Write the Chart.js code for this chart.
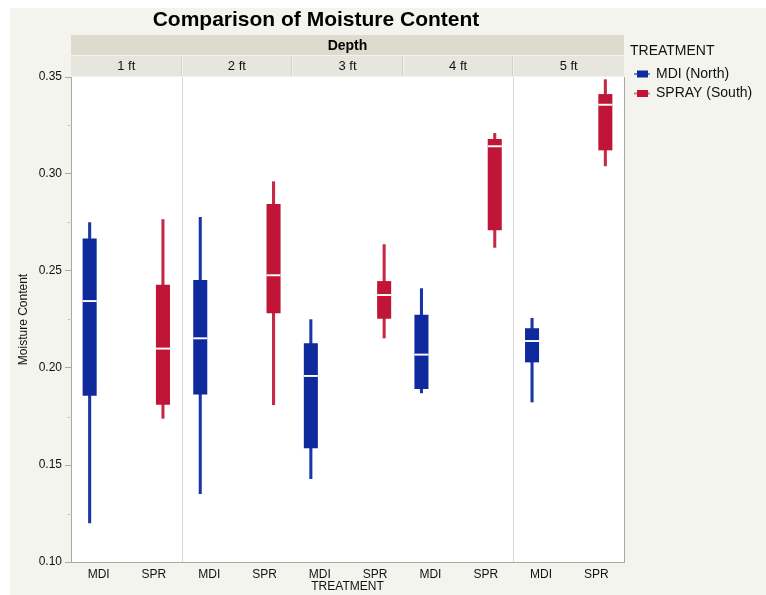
<!DOCTYPE html>
<html><head><meta charset="utf-8">
<script src="https://cdn.jsdelivr.net/npm/chart.js@4.4.0/dist/chart.umd.min.js"></script>
<style>html,body{margin:0;padding:0;background:#fff;} #wrap{width:766px;height:595px;position:relative}</style>
</head><body><div id="wrap"><canvas id="c" width="766" height="595"></canvas></div>
<script>
// ---- data ----
const chartTitle = 'Comparison of Moisture Content';
const facetTitle = 'Depth';
const depths = ['1 ft', '2 ft', '3 ft', '4 ft', '5 ft'];
const treatments = ['MDI', 'SPR'];
const legendTitle = 'TREATMENT';
const legendLabels = ['MDI (North)', 'SPRAY (South)'];
const yTicks = [0.10, 0.15, 0.20, 0.25, 0.30, 0.35];
const yMinorTicks = [0.125, 0.175, 0.225, 0.275, 0.325];

const mdiMin    = [0.1200, 0.1350, 0.1428, 0.1870, 0.1823];
const mdiQ1     = [0.1857, 0.1864, 0.1586, 0.1892, 0.2029];
const mdiMedian = [0.2345, 0.2153, 0.1959, 0.2069, 0.2139];
const mdiQ3     = [0.2667, 0.2454, 0.2127, 0.2275, 0.2205];
const mdiMax    = [0.2751, 0.2778, 0.2251, 0.2411, 0.2258];

const sprMin    = [0.1739, 0.1809, 0.2153, 0.2620, 0.3040];
const sprQ1     = [0.1811, 0.2282, 0.2254, 0.2710, 0.3122];
const sprMedian = [0.2100, 0.2478, 0.2376, 0.3143, 0.3357];
const sprQ3     = [0.2429, 0.2845, 0.2448, 0.3180, 0.3412];
const sprMax    = [0.2767, 0.2962, 0.2638, 0.3211, 0.3488];

// ---- build ----
const FONT = '"Liberation Sans", Arial, Helvetica, sans-serif';
const BLUE = '#0e2a9c';
const RED = '#c01536';
const labels = [];
depths.forEach(() => treatments.forEach(t => labels.push(t)));

function place(lo, hi, slot) {
  const out = new Array(labels.length).fill(null);
  lo.forEach((v, i) => { out[i * 2 + slot] = [v, hi[i]]; });
  return out;
}
const MED_HALF = 0.0005;
function medRange(med) { return med.map(m => m - MED_HALF); }
function medRangeHi(med) { return med.map(m => m + MED_HALF); }

const CAT_PCT = 0.651;
const BOX_PCT = 0.78;
const WHISK_PCT = 0.17;

const datasets = [
  { label: 'mdiMed', stack: 'mdi', data: place(medRange(mdiMedian), medRangeHi(mdiMedian), 0), backgroundColor: '#ffffff', barPercentage: BOX_PCT },
  { label: 'sprMed', stack: 'spr', data: place(medRange(sprMedian), medRangeHi(sprMedian), 1), backgroundColor: '#ffffff', barPercentage: BOX_PCT },
  { label: 'mdiBox', stack: 'mdi', data: place(mdiQ1, mdiQ3, 0), backgroundColor: BLUE, barPercentage: BOX_PCT },
  { label: 'sprBox', stack: 'spr', data: place(sprQ1, sprQ3, 1), backgroundColor: RED, barPercentage: BOX_PCT },
  { label: 'mdiWhisker', stack: 'mdi', data: place(mdiMin, mdiMax, 0), backgroundColor: '#1a36a6', barPercentage: WHISK_PCT },
  { label: 'sprWhisker', stack: 'spr', data: place(sprMin, sprMax, 1), backgroundColor: '#c42a48', barPercentage: WHISK_PCT }
];
datasets.forEach(d => { d.categoryPercentage = CAT_PCT; d.borderWidth = 0; d.borderSkipped = false; });

const PLOT_LEFT = 71, PLOT_RIGHT = 624, PLOT_TOP = 77, PLOT_BOTTOM = 562;

const decor = {
  id: 'decor',
  beforeDraw(chart) {
    const ctx = chart.ctx, a = chart.chartArea;
    ctx.save();
    ctx.fillStyle = '#ffffff';
    ctx.fillRect(0, 0, chart.width, chart.height);
    ctx.fillStyle = '#f4f4ef';
    ctx.fillRect(10, 8, chart.width - 10, chart.height - 8);
    ctx.fillStyle = '#ffffff';
    ctx.fillRect(a.left, a.top, a.right - a.left, a.bottom - a.top);
    const x = chart.scales.x;
    ctx.strokeStyle = '#d8d8d8';
    ctx.lineWidth = 1;
    [2, 8].forEach(i => {
      const px = Math.round((x.getPixelForTick(i - 1) + x.getPixelForTick(i)) / 2) + 0.5;
      ctx.beginPath(); ctx.moveTo(px, a.top); ctx.lineTo(px, a.bottom); ctx.stroke();
    });
    ctx.restore();
  },
  afterDraw(chart) {
    const ctx = chart.ctx, a = chart.chartArea;
    const x = chart.scales.x, y = chart.scales.y;
    ctx.save();
    ctx.strokeStyle = '#a8a8a8';
    ctx.lineWidth = 1;
    ctx.beginPath(); ctx.moveTo(a.right + 0.5, a.top); ctx.lineTo(a.right + 0.5, a.bottom + 1); ctx.stroke();
    ctx.strokeStyle = '#b8b8b8';
    yMinorTicks.forEach(v => {
      const py = Math.round(y.getPixelForValue(v)) + 0.5;
      ctx.beginPath(); ctx.moveTo(a.left - 3, py); ctx.lineTo(a.left - 1, py); ctx.stroke();
    });
    ctx.fillStyle = '#000';
    ctx.font = 'bold 21px ' + FONT;
    ctx.textAlign = 'center';
    ctx.textBaseline = 'middle';
    ctx.fillText(chartTitle, 316, 20);
    ctx.fillStyle = '#dcdbcd';
    ctx.fillRect(a.left, 35, a.right - a.left, 20);
    ctx.fillStyle = '#e7e6de';
    ctx.fillRect(a.left, 56, a.right - a.left, 20);
    ctx.fillStyle = '#000';
    ctx.font = 'bold 14px ' + FONT;
    ctx.fillText(facetTitle, (a.left + a.right) / 2, 46);
    ctx.font = '13px ' + FONT;
    depths.forEach((d, i) => {
      const l = i === 0 ? a.left : (x.getPixelForTick(2 * i - 1) + x.getPixelForTick(2 * i)) / 2;
      const r = i === depths.length - 1 ? a.right : (x.getPixelForTick(2 * i + 1) + x.getPixelForTick(2 * i + 2)) / 2;
      if (i > 0) {
        const px = Math.round(l);
        ctx.fillStyle = '#d3d2c6';
        ctx.fillRect(px - 1, 56, 1, 20);
        ctx.fillStyle = '#f2f2ec';
        ctx.fillRect(px, 56, 1, 20);
      }
      ctx.fillStyle = '#111';
      ctx.fillText(d, (l + r) / 2, 66.5);
    });
    ctx.textAlign = 'left';
    ctx.font = '14px ' + FONT;
    ctx.fillStyle = '#111';
    ctx.fillText(legendTitle, 630, 51);
    [BLUE, RED].forEach((c, i) => {
      const cy = 74 + i * 19.5;
      ctx.globalAlpha = 0.55;
      ctx.fillStyle = c;
      ctx.fillRect(634, cy - 1, 16, 2);
      ctx.globalAlpha = 1;
      ctx.fillRect(637, cy - 3.5, 11, 7);
      ctx.fillStyle = '#111';
      ctx.fillText(legendLabels[i], 656, cy);
    });
    ctx.restore();
  }
};

new Chart(document.getElementById('c'), {
  type: 'bar',
  data: { labels, datasets },
  options: {
    responsive: false,
    animation: false,
    events: [],
    layout: { padding: { left: 0, top: PLOT_TOP, right: 766 - PLOT_RIGHT, bottom: 0 } },
    plugins: { legend: { display: false }, title: { display: false }, tooltip: { enabled: false } },
    scales: {
      x: {
        stacked: true,
        offset: true,
        grid: { display: true, drawOnChartArea: false, drawTicks: false, color: 'transparent' },
        border: { display: true, color: '#a8a8a8' },
        ticks: { font: { family: FONT, size: 12 }, color: '#111', padding: 5, maxRotation: 0, autoSkip: false },
        title: { display: true, text: legendTitle, font: { family: FONT, size: 12, lineHeight: 1 }, color: '#111', padding: { top: 0, bottom: 2 } },
        afterFit(s) { s.height = 595 - PLOT_BOTTOM; }
      },
      y: {
        stacked: false,
        min: 0.10, max: 0.35,
        afterBuildTicks(s) { s.ticks = yTicks.map(v => ({ value: v })); },
        grid: { drawOnChartArea: false, drawTicks: true, tickLength: 6, color: '#a8a8a8' },
        border: { display: true, color: '#a8a8a8' },
        ticks: { font: { family: FONT, size: 12 }, color: '#111', padding: 3, callback: v => Number(v).toFixed(2) },
        title: { display: true, text: 'Moisture Content', font: { family: FONT, size: 12 }, color: '#111', padding: { top: 16, bottom: 0 } },
        afterFit(s) { s.width = PLOT_LEFT; }
      }
    }
  },
  plugins: [decor]
});
</script></body></html>
